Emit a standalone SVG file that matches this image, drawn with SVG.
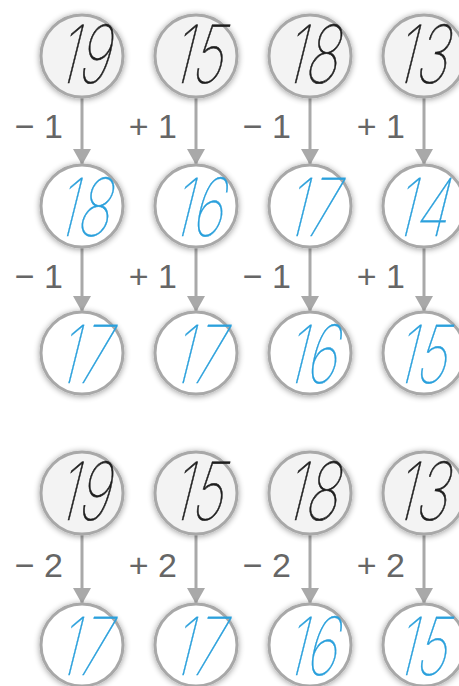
<svg xmlns="http://www.w3.org/2000/svg" width="459" height="686" viewBox="0 0 459 686">
<defs>
<filter id="sh" x="-30%" y="-30%" width="160%" height="160%">
<feGaussianBlur in="SourceAlpha" stdDeviation="3"/>
<feOffset dx="0" dy="1" result="b"/>
<feComponentTransfer in="b" result="c"><feFuncA type="linear" slope="0.4"/></feComponentTransfer>
<feMerge><feMergeNode in="c"/><feMergeNode in="SourceGraphic"/></feMerge>
</filter>
<marker id="ah" viewBox="0 0 16 18" refX="16" refY="9" markerWidth="16" markerHeight="18" markerUnits="userSpaceOnUse" orient="auto">
<path d="M0,0 L16,9 L0,18 Z" fill="#a9a9a9"/>
</marker>
</defs>
<style>
.c{stroke:#a8a8a8;stroke-width:3;filter:url(#sh)}
.g{fill:#f3f3f3}
.w{fill:#ffffff}
.n{font-family:Inter,"Liberation Sans",sans-serif;font-weight:100;font-size:80px;text-anchor:middle}
.k{fill:#1e1e1e;stroke:#1e1e1e;stroke-width:0.6}
.b{fill:#2aa0dc;stroke:#2aa0dc;stroke-width:0.4}
.l{font-family:"Liberation Sans",Arial,sans-serif;font-size:34px;fill:#666;text-anchor:end}
.a{stroke:#a9a9a9;stroke-width:3;fill:none;marker-end:url(#ah)}
</style>
<rect width="459" height="686" fill="#ffffff"/>
<g id="connectors">
<line class="a" x1="82" y1="98" x2="82" y2="165"/>
<line class="a" x1="196" y1="98" x2="196" y2="165"/>
<line class="a" x1="310" y1="98" x2="310" y2="165"/>
<line class="a" x1="424" y1="98" x2="424" y2="165"/>
<line class="a" x1="82" y1="248" x2="82" y2="312"/>
<line class="a" x1="196" y1="248" x2="196" y2="312"/>
<line class="a" x1="310" y1="248" x2="310" y2="312"/>
<line class="a" x1="424" y1="248" x2="424" y2="312"/>
<line class="a" x1="82" y1="534" x2="82" y2="604"/>
<line class="a" x1="196" y1="534" x2="196" y2="604"/>
<line class="a" x1="310" y1="534" x2="310" y2="604"/>
<line class="a" x1="424" y1="534" x2="424" y2="604"/>
<text class="l" x="63" y="138">− 1</text>
<text class="l" x="177" y="138">+ 1</text>
<text class="l" x="291" y="138">− 1</text>
<text class="l" x="405" y="138">+ 1</text>
<text class="l" x="63" y="288">− 1</text>
<text class="l" x="177" y="288">+ 1</text>
<text class="l" x="291" y="288">− 1</text>
<text class="l" x="405" y="288">+ 1</text>
<text class="l" x="63" y="577">− 2</text>
<text class="l" x="177" y="577">+ 2</text>
<text class="l" x="291" y="577">− 2</text>
<text class="l" x="405" y="577">+ 2</text>
</g>
<g id="n1"><circle class="c g" cx="82" cy="56" r="41"/><text class="n k" transform="translate(81,83) skewX(-14) scale(0.7,1)">19</text></g>
<g id="n2"><circle class="c g" cx="196" cy="56" r="41"/><text class="n k" transform="translate(195,83) skewX(-14) scale(0.7,1)">15</text></g>
<g id="n3"><circle class="c g" cx="310" cy="56" r="41"/><text class="n k" transform="translate(309,83) skewX(-14) scale(0.7,1)">18</text></g>
<g id="n4"><circle class="c g" cx="424" cy="56" r="41"/><text class="n k" transform="translate(419,83) skewX(-14) scale(0.7,1)">13</text></g>
<g id="n5"><circle class="c w" cx="82" cy="206" r="41"/><text class="n b" transform="translate(81,236) skewX(-14) scale(0.7,1)">18</text></g>
<g id="n6"><circle class="c w" cx="196" cy="206" r="41"/><text class="n b" transform="translate(195,236) skewX(-14) scale(0.7,1)">16</text></g>
<g id="n7"><circle class="c w" cx="310" cy="206" r="41"/><text class="n b" transform="translate(309,236) skewX(-14) scale(0.7,1)">17</text></g>
<g id="n8"><circle class="c w" cx="424" cy="206" r="41"/><text class="n b" transform="translate(419,236) skewX(-14) scale(0.7,1)">14</text></g>
<g id="n9"><circle class="c w" cx="82" cy="353" r="41"/><text class="n b" transform="translate(81,383) skewX(-14) scale(0.7,1)">17</text></g>
<g id="n10"><circle class="c w" cx="196" cy="353" r="41"/><text class="n b" transform="translate(195,383) skewX(-14) scale(0.7,1)">17</text></g>
<g id="n11"><circle class="c w" cx="310" cy="353" r="41"/><text class="n b" transform="translate(309,383) skewX(-14) scale(0.7,1)">16</text></g>
<g id="n12"><circle class="c w" cx="424" cy="353" r="41"/><text class="n b" transform="translate(419,383) skewX(-14) scale(0.7,1)">15</text></g>
<g id="n13"><circle class="c g" cx="82" cy="493" r="41"/><text class="n k" transform="translate(81,520) skewX(-14) scale(0.7,1)">19</text></g>
<g id="n14"><circle class="c g" cx="196" cy="493" r="41"/><text class="n k" transform="translate(195,520) skewX(-14) scale(0.7,1)">15</text></g>
<g id="n15"><circle class="c g" cx="310" cy="493" r="41"/><text class="n k" transform="translate(309,520) skewX(-14) scale(0.7,1)">18</text></g>
<g id="n16"><circle class="c g" cx="424" cy="493" r="41"/><text class="n k" transform="translate(419,520) skewX(-14) scale(0.7,1)">13</text></g>
<g id="n17"><circle class="c w" cx="82" cy="645" r="41"/><text class="n b" transform="translate(81,675) skewX(-14) scale(0.7,1)">17</text></g>
<g id="n18"><circle class="c w" cx="196" cy="645" r="41"/><text class="n b" transform="translate(195,675) skewX(-14) scale(0.7,1)">17</text></g>
<g id="n19"><circle class="c w" cx="310" cy="645" r="41"/><text class="n b" transform="translate(309,675) skewX(-14) scale(0.7,1)">16</text></g>
<g id="n20"><circle class="c w" cx="424" cy="645" r="41"/><text class="n b" transform="translate(419,675) skewX(-14) scale(0.7,1)">15</text></g>
</svg>
